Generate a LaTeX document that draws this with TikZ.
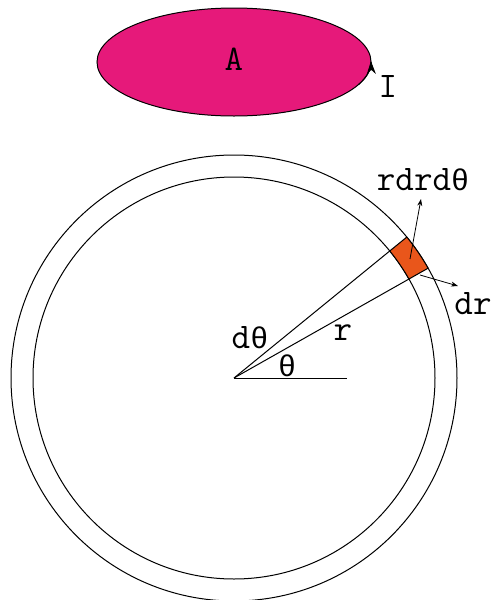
\documentclass[tikz,border=0pt]{standalone}
\usepackage{fontspec}
\newfontfamily\greekmono{Liberation Mono}
\usetikzlibrary{arrows.meta,calc}
\definecolor{loopfill}{HTML}{E6197A}
\definecolor{patchfill}{HTML}{E9561B}
\newcommand{\thgl}{{\greekmono\fontsize{30}{30}\selectfont θ}}
\tikzset{
  lbl/.style={inner sep=0pt, font=\ttfamily\fontsize{36}{36}\selectfont},
  thin line/.style={line width=1pt},
  smallarrow/.style={-{Stealth[length=7pt,width=5pt]}, line width=0.8pt}
}
\begin{document}
\begin{tikzpicture}[x=1pt,y=-1pt]
\useasboundingbox (0,0) rectangle (492,600);
% current loop
\draw[thin line, fill=loopfill] (234,62) ellipse [x radius=137, y radius=54];
\draw[-{Stealth[length=13pt,width=9pt]}, line width=1pt] plot[domain=-25:1, smooth, variable=\t] ({234+137*cos(\t)},{62-54*sin(\t)});
\node[lbl] (A) at (234,59) {A};
\node[lbl] (I) at (388,86) {I};
% circles
\coordinate (O) at (234,378);
\draw[thin line] (O) circle [radius=201];
\draw[thin line] (O) circle [radius=223];
% radial lines
\coordinate (p1) at ($(O)+(-29.5:201)$);
\coordinate (p2) at ($(O)+(-39.2:201)$);
\draw[thin line] (O) -- (p1);
\draw[thin line] (O) -- (p2);
\coordinate (ax) at (347,378);
\draw[thin line] (O) -- (ax);
% patch
\draw[thin line, fill=patchfill] (p1) -- ($(O)+(-29.5:223)$) arc [start angle=-29.5, end angle=-39.2, radius=223] -- (p2) arc [start angle=-39.2, end angle=-29.5, radius=201] -- cycle;
% arrows
\coordinate (pc) at (410,259);
\coordinate (pt) at (421,199);
\draw[smallarrow] (pc) -- (pt);
\coordinate (dc) at (420,275);
\coordinate (dt) at (458,286);
\draw[smallarrow] (dc) -- (dt);
% labels
\node[lbl] (rdr) at (423,180) {rdrd\thgl};
\node[lbl] (dr) at (473,304) {dr};
\node[lbl] (dth) at (250,338) {d\thgl};
\node[lbl] (r) at (343,333) {r};
\node[lbl] (th) at (287,366) {\thgl};
\end{tikzpicture}
\end{document}
